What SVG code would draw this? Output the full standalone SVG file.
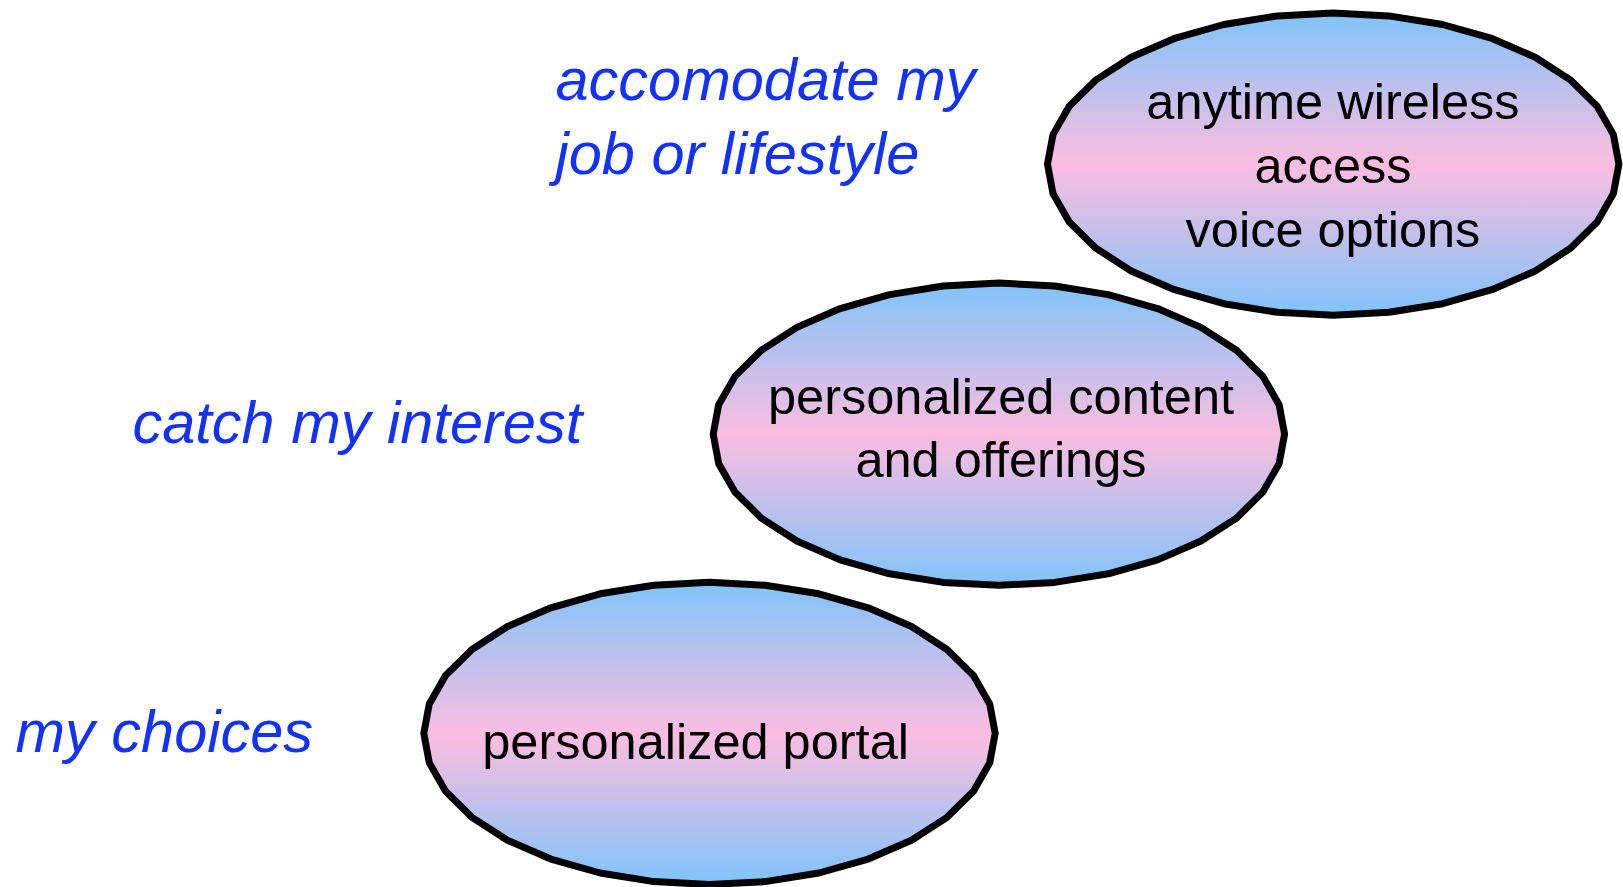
<svg xmlns="http://www.w3.org/2000/svg" xmlns:xlink="http://www.w3.org/1999/xlink" width="1623" height="887" viewBox="0 0 1623 887">
<style>
.node{stroke:#000;stroke-width:7;stroke-linejoin:round;fill:url(#g)}
.nt{font-family:"Liberation Sans",Arial,sans-serif;font-size:50.5px;fill:#000;text-anchor:middle}
.lb{font-family:"Liberation Sans",Arial,sans-serif;font-size:59.5px;font-style:italic;fill:#1432ff}
</style>
<defs>
<linearGradient id="g" x1="0" y1="0" x2="0" y2="1">
<stop offset="0" stop-color="#80c4fa"/>
<stop offset="0.5" stop-color="#fbbde0"/>
<stop offset="1" stop-color="#80c4fa"/>
</linearGradient>
<polygon id="ell" points="285.7,0 280.21,29.48 263.95,57.82 237.55,83.95 202.02,106.84 158.72,125.64 109.33,139.6 55.74,148.2 0,151.1 -55.74,148.2 -109.33,139.6 -158.72,125.64 -202.02,106.84 -237.55,83.95 -263.95,57.82 -280.21,29.48 -285.7,0 -280.21,-29.48 -263.95,-57.82 -237.55,-83.95 -202.02,-106.84 -158.72,-125.64 -109.33,-139.6 -55.74,-148.2 0,-151.1 55.74,-148.2 109.33,-139.6 158.72,-125.64 202.02,-106.84 237.55,-83.95 263.95,-57.82 280.21,-29.48"/>
</defs>
<rect width="1623" height="887" fill="#fff"/>
<g id="connectors"></g>
<g id="node-wireless">
<use xlink:href="#ell" href="#ell" class="node" transform="translate(1333.2,164.1)"/>
<text class="nt" x="1333" y="119">anytime wireless</text>
<text class="nt" x="1333" y="183">access</text>
<text class="nt" x="1333" y="246.5">voice options</text>
</g>
<g id="node-content">
<use xlink:href="#ell" href="#ell" class="node" transform="translate(998.9,434.2)"/>
<text class="nt" x="1001" y="414">personalized content</text>
<text class="nt" x="1001" y="477">and offerings</text>
</g>
<g id="node-portal">
<use xlink:href="#ell" href="#ell" class="node" transform="translate(709.5,733.4)"/>
<text class="nt" x="695.6" y="758.5">personalized portal</text>
</g>
<g id="labels">
<text class="lb" x="555.5" y="99.5">accomodate my</text>
<text class="lb" x="555.5" y="174">job or lifestyle</text>
<text class="lb" x="132.5" y="443">catch my interest</text>
<text class="lb" x="15.5" y="751.5">my choices</text>
</g>
</svg>
